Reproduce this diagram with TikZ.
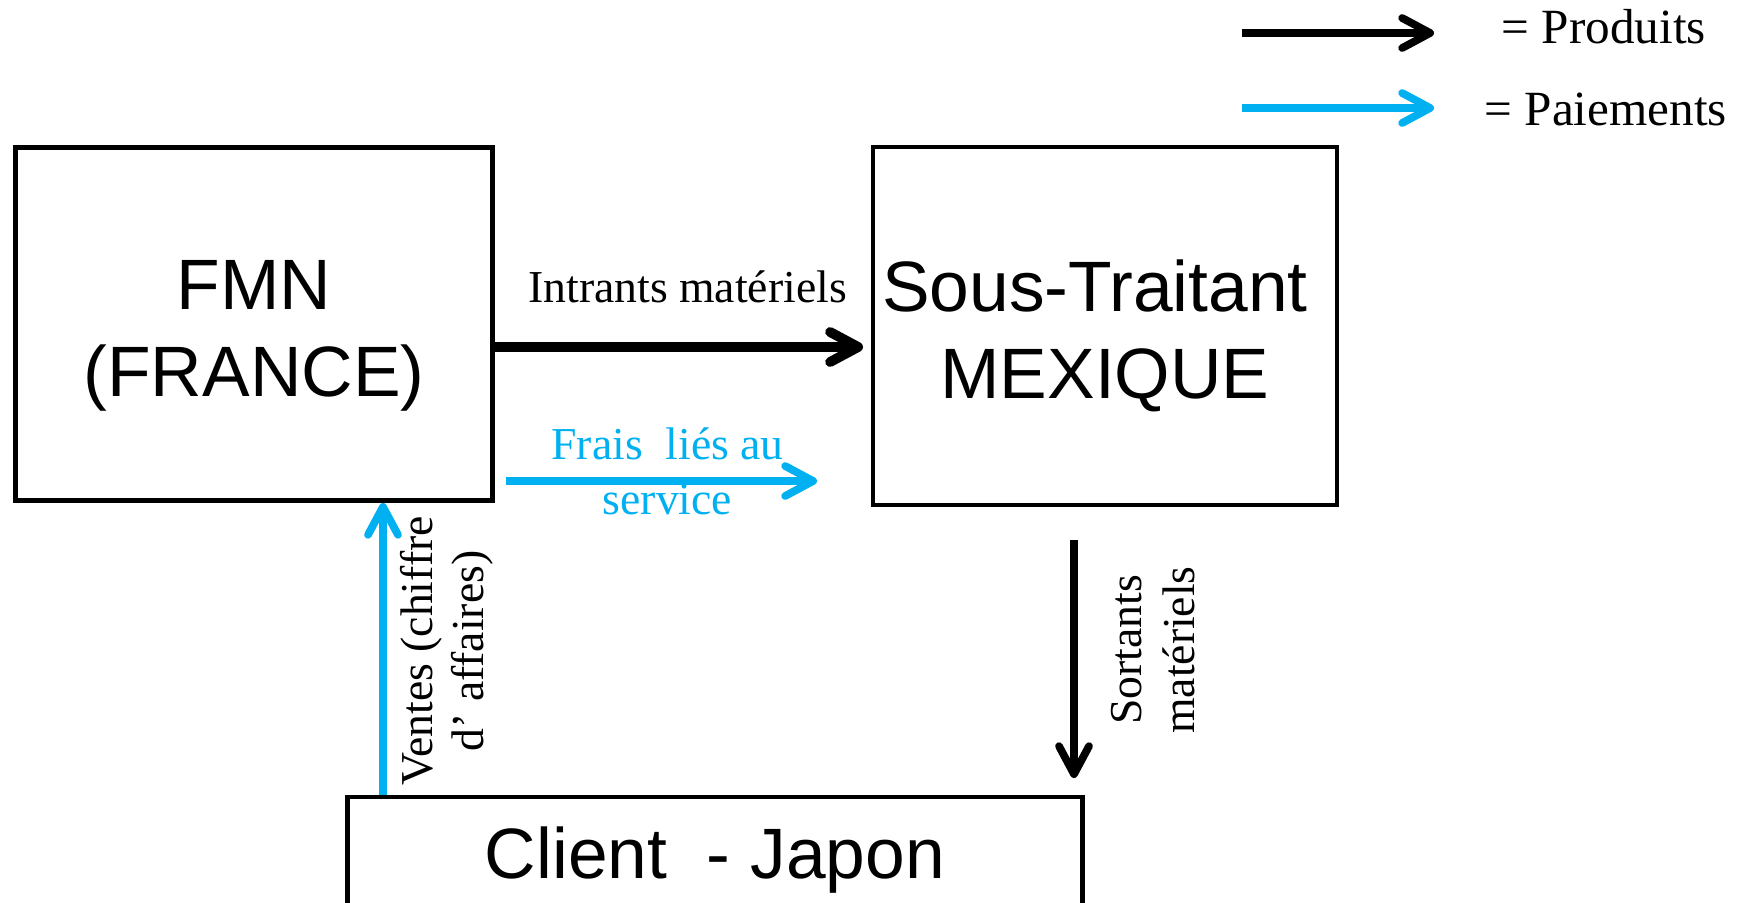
\documentclass[tikz,border=0pt]{standalone}
\usepackage{fontspec}
\setmainfont{Liberation Serif}
\newfontfamily\boxfont{Liberation Sans}
\usetikzlibrary{arrows.meta}
\definecolor{paie}{HTML}{00B0F0}

\begin{document}
\begin{tikzpicture}[
  bloc/.style={draw=black, line width=1.4pt, align=center, inner sep=0pt,
    font=\boxfont\fontsize{20.3}{24.7}\selectfont},
  lbl/.style={inner sep=0pt, font=\fontsize{13}{15}\selectfont},
  flux/.style={line width=2.2pt, -{Straight Barb[round,length=2.8mm,width=3mm]}}
]
\useasboundingbox (0,0) rectangle (17.53,9.02);
\clip (0,0) rectangle (17.53,9.02);

% les trois blocs
\node[bloc, minimum width=4.77cm, minimum height=3.53cm] (fmn) at (2.54,5.78) {\rule{0pt}{.72cm}FMN\\(FRANCE)};
\node[bloc, minimum width=4.64cm, minimum height=3.58cm] (st) at (11.05,5.76) {\rule{0pt}{.72cm}Sous-Traitant\hspace*{.2cm}\\MEXIQUE};
\node[bloc, minimum width=7.35cm, minimum height=1.26cm] (client) at (7.15,0.42) {Client\ \ - Japon};

% \draw[step=1cm,gray,very thin] (0,0) grid (17,9);

% produits
\coordinate (in-end) at (8.63,5.55);
\draw[flux, line width=2.8pt] (fmn.east |- in-end) -- (in-end);
\node[lbl, anchor=base] (intrants) at (6.875,6.00) {Intrants matériels};

\coordinate (so-a) at (10.74,3.62);
\coordinate (so-b) at (10.74,1.24);
\draw[flux] (so-a) -- (so-b);
\node[lbl, rotate=90, align=center] (sortants) at (11.53,2.52) {Sortants\\matériels};

% paiements
\coordinate (fr-a) at (5.06,4.21);
\coordinate (fr-b) at (8.17,4.21);
\draw[flux, paie] (fr-a) -- (fr-b);
\node[lbl, paie, align=center, font=\fontsize{13}{15.6}\selectfont] (frais) at (6.675,4.31) {Frais\ \ liés au\\service};

\coordinate (ve) at (3.83,0);
\draw[flux, paie] (client.north -| ve) -- (fmn.south -| ve);
\node[lbl, rotate=90, align=center, font=\fontsize{13}{14.5}\selectfont] (ventes) at (4.47,2.51) {Ventes (chiffre\\d’ affaires)};

% legende
\foreach \i/\y/\col/\x/\b/\t in {1/8.69/black/15.01/8.59/Produits, 2/7.94/paie/14.84/7.77/Paiements}
{
    \coordinate (leg\i a) at (12.42,\y);
    \coordinate (leg\i b) at (14.34,\y);
    \draw[flux, \col] (leg\i a) -- (leg\i b);
    \node[lbl, anchor=base west, font=\fontsize{14}{16}\selectfont] (leg\i) at (\x,\b) {= \t};
}

\end{tikzpicture}
\end{document}
